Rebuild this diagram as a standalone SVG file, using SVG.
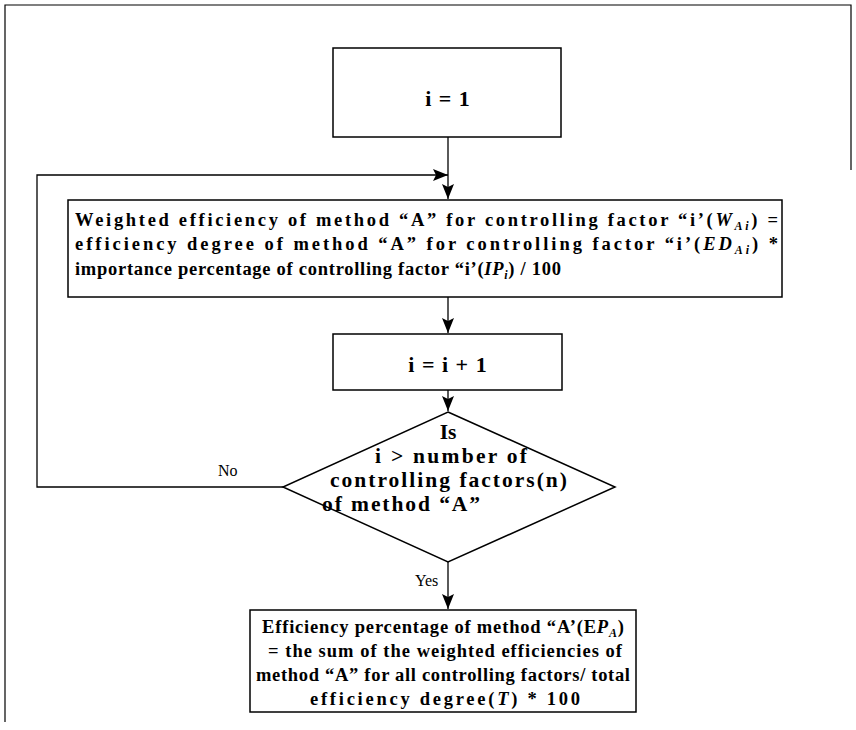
<svg xmlns="http://www.w3.org/2000/svg" width="856" height="730" viewBox="0 0 856 730">
<defs>
<style>
.box{fill:#fff;stroke:#000;stroke-width:1.5}
.ln{fill:none;stroke:#000;stroke-width:1.3}
.frame{fill:none;stroke:#000;stroke-width:1.2}
.t{font-family:"Liberation Serif","Times New Roman",serif;font-weight:bold;font-size:18.5px;fill:#000}
.td{font-family:"Liberation Serif","Times New Roman",serif;font-weight:bold;font-size:21.5px;fill:#000}
.ti{font-family:"Liberation Serif","Times New Roman",serif;font-weight:bold;font-size:22px;letter-spacing:1px;fill:#000}
.tb{font-family:"Liberation Serif","Times New Roman",serif;font-weight:bold;font-size:18.5px;fill:#000}
.lbl{font-family:"Liberation Serif","Times New Roman",serif;font-size:16px;fill:#000}
.it{font-style:italic}
.sub{font-style:italic;font-size:12px}
</style>
<marker id="ah" viewBox="0 0 15 12" refX="15" refY="6" markerWidth="15" markerHeight="12" markerUnits="userSpaceOnUse" orient="auto">
<path d="M15,6 L0,0 L3,6 L0,12 Z" fill="#000"/>
</marker>
</defs>
<rect width="856" height="730" fill="#fff"/>
<g id="frame">
<path class="frame" d="M5,722 V5 H851 V170"/>
</g>
<g id="connectors">
<path class="ln" d="M448,137 V199" marker-end="url(#ah)"/>
<path class="ln" d="M283,487 H37 V175 H448" marker-end="url(#ah)"/>
<path class="ln" d="M448,297 V333" marker-end="url(#ah)"/>
<path class="ln" d="M448,390 V411" marker-end="url(#ah)"/>
<path class="ln" d="M448,562 V609" marker-end="url(#ah)"/>
</g>
<g id="n1">
<rect class="box" x="333" y="48" width="228" height="89"/>
<text class="ti" x="448" y="106" text-anchor="middle">i = 1</text>
</g>
<g id="n2">
<rect class="box" x="68" y="200" width="714" height="97"/>
<text class="t" x="75" y="226" textLength="703" lengthAdjust="spacing">Weighted efficiency of method “A” for controlling factor “i’(<tspan class="it">W</tspan><tspan class="sub" dy="4">Ai</tspan><tspan dy="-4">) =</tspan></text>
<text class="t" x="75" y="250" textLength="703" lengthAdjust="spacing">efficiency degree of method “A” for controlling factor “i’(<tspan class="it">ED</tspan><tspan class="sub" dy="4">Ai</tspan><tspan dy="-4">) *</tspan></text>
<text class="t" x="75" y="275" textLength="486" lengthAdjust="spacing">importance percentage of controlling factor “i’(<tspan class="it">IP</tspan><tspan class="sub" dy="4">i</tspan><tspan dy="-4">) / 100</tspan></text>
</g>
<g id="n3">
<rect class="box" x="333" y="334" width="229" height="56"/>
<text class="ti" x="448" y="372" text-anchor="middle">i = i + 1</text>
</g>
<g id="n4">
<polygon class="box" points="448,412 615,487 448,562 283,487"/>
<text class="td" x="448" y="439" text-anchor="middle">Is</text>
<text class="td" x="375" y="463" textLength="152" lengthAdjust="spacing">i &gt; number of</text>
<text class="td" x="330" y="487" textLength="237" lengthAdjust="spacing">controlling factors(n)</text>
<text class="td" x="322" y="511" textLength="158" lengthAdjust="spacing">of method “A”</text>
</g>
<g id="n5">
<rect class="box" x="250" y="610" width="386" height="102"/>
<text class="tb" x="262" y="633" textLength="362" lengthAdjust="spacing">Efficiency percentage of method “A’(E<tspan class="it">P</tspan><tspan class="sub" dy="4">A</tspan><tspan dy="-4">)</tspan></text>
<text class="tb" x="268" y="657" textLength="354" lengthAdjust="spacing">= the sum of the weighted efficiencies of</text>
<text class="tb" x="256" y="681" textLength="374" lengthAdjust="spacing">method “A” for all controlling factors/ total</text>
<text class="tb" x="310" y="705" textLength="270" lengthAdjust="spacing">efficiency degree(<tspan class="it">T</tspan>) * 100</text>
</g>
<g id="labels">
<text class="lbl" x="218" y="476">No</text>
<text class="lbl" x="415" y="586">Yes</text>
</g>
</svg>
